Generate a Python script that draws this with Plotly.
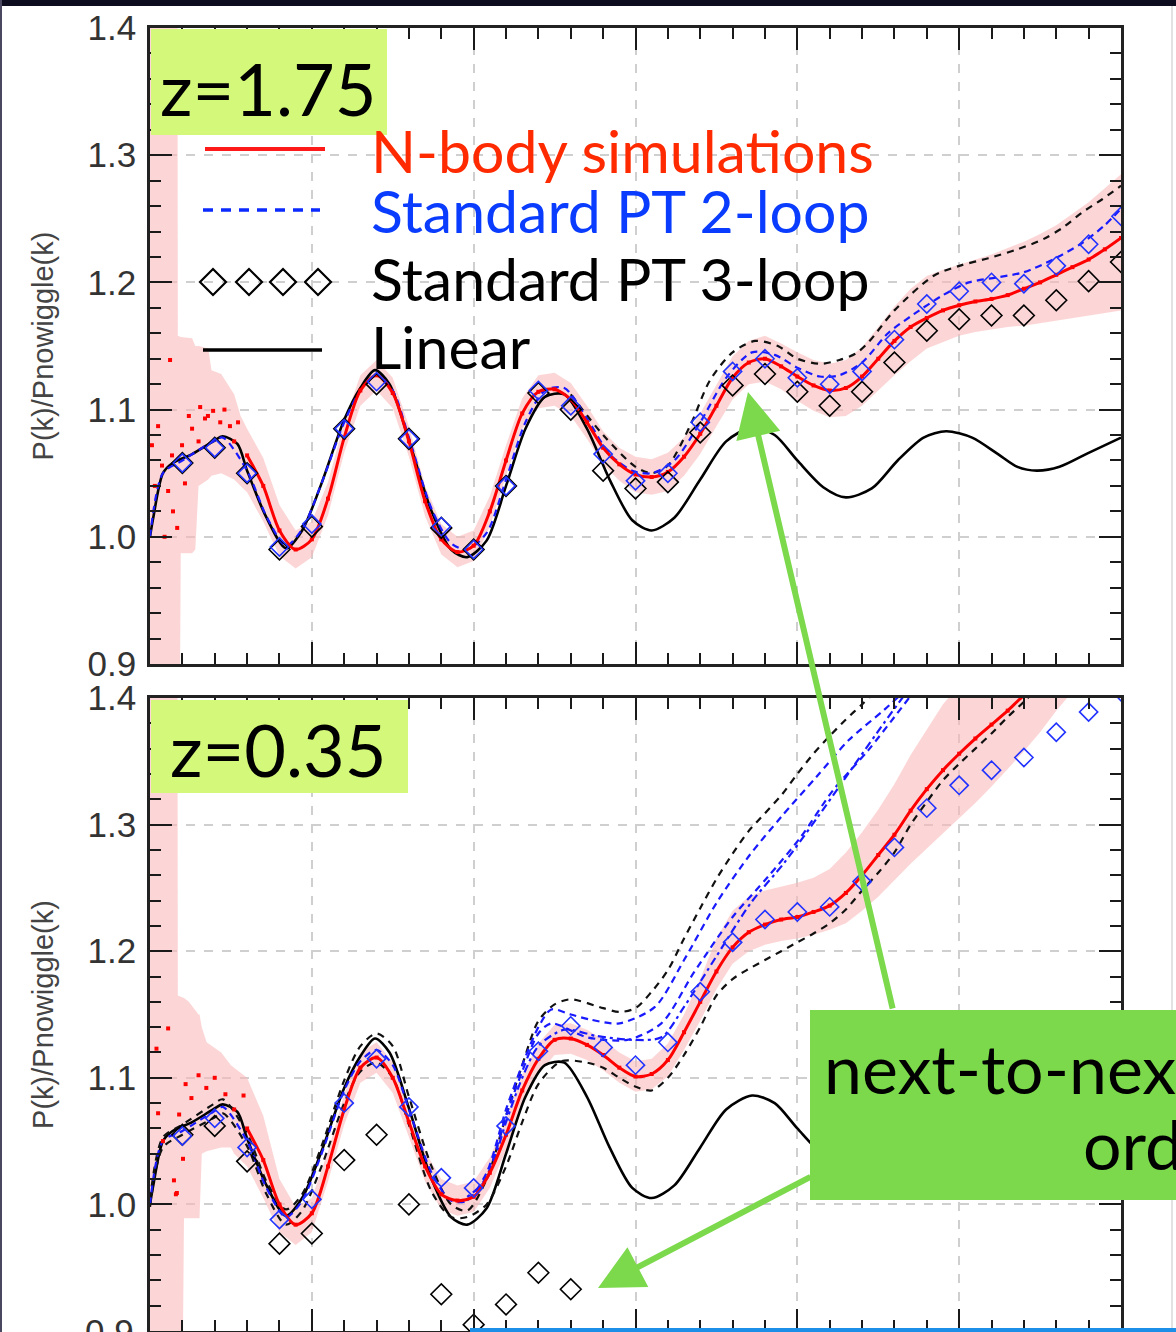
import plotly.graph_objects as go

# ---------------------------------------------------------------- data
# shared linear-theory ratio P_lin/P_nowiggle
K_LIN = [0.0, 0.001, 0.004, 0.007, 0.013, 0.0195, 0.0225, 0.027, 0.030, 0.036, 0.042, 0.047,
         0.053, 0.060, 0.065, 0.0695, 0.074, 0.080, 0.087, 0.093, 0.098, 0.104, 0.110, 0.116,
         0.122, 0.128, 0.135, 0.142, 0.149, 0.155, 0.162, 0.170, 0.178, 0.186, 0.193, 0.200,
         0.208, 0.215, 0.223, 0.231, 0.239, 0.246, 0.254, 0.262, 0.268, 0.274, 0.281, 0.290, 0.300]
LINEAR = [1.000, 1.015, 1.050, 1.058, 1.065, 1.075, 1.079, 1.073, 1.052, 1.015, 0.991, 1.005,
          1.042, 1.092, 1.117, 1.131, 1.120, 1.076, 1.020, 0.990, 0.984, 0.997, 1.040, 1.085,
          1.110, 1.112, 1.085, 1.045, 1.013, 1.005, 1.015, 1.045, 1.075, 1.086, 1.080, 1.060,
          1.039, 1.031, 1.038, 1.060, 1.078, 1.083, 1.078, 1.065, 1.055, 1.052, 1.055, 1.066, 1.078]

# ---- z = 1.75 panel
K_NB_TOP_SCAT = [0.0006, 0.0015, 0.0025, 0.0037, 0.0045, 0.0056, 0.0062, 0.0068, 0.0071, 0.0084,
                 0.0099, 0.0108, 0.012, 0.013, 0.015, 0.0155, 0.017, 0.0179, 0.0195, 0.0217,
                 0.023, 0.0247, 0.026, 0.0272]
NB_TOP_SCAT = [1.072, 1.040, 1.087, 1.056, 1.000, 1.036, 1.139, 1.064, 1.020, 1.007,
               1.072, 1.042, 1.095, 1.085, 1.075, 1.102, 1.093, 1.095, 1.099, 1.090,
               1.100, 1.087, 1.075, 1.090]
K_NB = [0.030, 0.035, 0.040, 0.045, 0.050, 0.055, 0.060, 0.065, 0.070, 0.075, 0.080, 0.085,
        0.090, 0.095, 0.100, 0.105, 0.110, 0.115, 0.120, 0.125, 0.130, 0.135, 0.140, 0.145,
        0.150, 0.155, 0.160, 0.165, 0.170, 0.175, 0.180, 0.185, 0.190, 0.195, 0.200, 0.205,
        0.210, 0.215, 0.220, 0.225, 0.230, 0.235, 0.240, 0.245, 0.250, 0.255, 0.260, 0.265,
        0.270, 0.275, 0.280, 0.285, 0.290, 0.295, 0.300]
NB_TOP = [1.064, 1.040, 1.005, 0.990, 0.998, 1.030, 1.078, 1.115, 1.127, 1.113, 1.075, 1.028,
          0.998, 0.988, 0.993, 1.020, 1.060, 1.097, 1.114, 1.116, 1.108, 1.090, 1.070, 1.057,
          1.049, 1.047, 1.051, 1.063, 1.081, 1.103, 1.125, 1.137, 1.140, 1.134, 1.126, 1.119,
          1.115, 1.117, 1.126, 1.140, 1.154, 1.165, 1.172, 1.178, 1.182, 1.185, 1.187, 1.190,
          1.195, 1.200, 1.206, 1.212, 1.218, 1.226, 1.235]
K_BAND_TOP = [0.0, 0.0085, 0.0086, 0.0093, 0.0095, 0.013, 0.014, 0.015, 0.018, 0.019, 0.022,
              0.026, 0.028] + K_NB
BAND_TOP_HI = [1.40, 1.40, 1.158, 1.157, 1.157, 1.156, 1.150, 1.150, 1.148, 1.131, 1.128,
               1.112, 1.095,
               1.085, 1.062, 1.025, 1.005, 1.012, 1.043, 1.090, 1.127, 1.139, 1.125, 1.087, 1.040,
               1.010, 1.000, 1.005, 1.032, 1.072, 1.109, 1.127, 1.129, 1.121, 1.103, 1.083, 1.070,
               1.063, 1.061, 1.066, 1.078, 1.097, 1.119, 1.142, 1.154, 1.158, 1.152, 1.145, 1.139,
               1.136, 1.139, 1.149, 1.165, 1.181, 1.195, 1.205, 1.210, 1.214, 1.218, 1.222, 1.227,
               1.232, 1.238, 1.245, 1.254, 1.263, 1.274, 1.285]
BAND_TOP_LO = [0.90, 0.90, 0.90, 0.90, 0.987, 0.987, 0.990, 1.040, 1.045, 1.048, 1.050,
               1.045, 1.040,
               1.035, 1.012, 0.985, 0.975, 0.984, 1.017, 1.066, 1.103, 1.115, 1.101, 1.063, 1.016,
               0.986, 0.976, 0.981, 1.008, 1.048, 1.085, 1.101, 1.103, 1.095, 1.077, 1.057, 1.044,
               1.035, 1.033, 1.036, 1.048, 1.065, 1.087, 1.108, 1.120, 1.122, 1.116, 1.107, 1.099,
               1.094, 1.095, 1.103, 1.115, 1.127, 1.138, 1.148, 1.153, 1.158, 1.161, 1.163, 1.165,
               1.166, 1.168, 1.170, 1.172, 1.174, 1.176, 1.178]
K_PT2_TOP = [0.0, 0.004, 0.010, 0.0195, 0.0225, 0.030, 0.036, 0.042, 0.047, 0.053, 0.060, 0.065,
             0.070, 0.075, 0.080, 0.087, 0.093, 0.098, 0.104, 0.110, 0.116, 0.122, 0.128, 0.135,
             0.142, 0.149, 0.155, 0.162, 0.170, 0.178, 0.186, 0.193, 0.200, 0.207, 0.213, 0.220,
             0.228, 0.236, 0.245, 0.253, 0.262, 0.270, 0.279, 0.288, 0.295, 0.300]
PT2_TOP = [1.000, 1.050, 1.060, 1.075, 1.078, 1.052, 1.016, 0.993, 1.006, 1.042, 1.090, 1.115,
           1.127, 1.115, 1.078, 1.022, 0.995, 0.990, 1.003, 1.045, 1.090, 1.115, 1.117, 1.093,
           1.065, 1.052, 1.050, 1.060, 1.090, 1.125, 1.145, 1.143, 1.133, 1.126, 1.127, 1.137,
           1.160, 1.175, 1.190, 1.200, 1.204, 1.208, 1.218, 1.231, 1.245, 1.258]
K_DASH_TOP = [0.130, 0.140, 0.150, 0.155, 0.160, 0.167, 0.173, 0.180, 0.187, 0.194, 0.200, 0.207,
              0.213, 0.218, 0.222, 0.230, 0.242, 0.250, 0.259, 0.268, 0.276, 0.282, 0.288, 0.294, 0.300]
DASH_TOP = [1.112, 1.080, 1.055, 1.050, 1.056, 1.088, 1.123, 1.145, 1.154, 1.150, 1.140, 1.136,
            1.139, 1.144, 1.153, 1.178, 1.205, 1.213, 1.219, 1.226, 1.234, 1.243, 1.255, 1.265, 1.276]
K_DIAM = [0.01, 0.02, 0.03, 0.04, 0.05, 0.06, 0.07, 0.08, 0.09, 0.10, 0.11, 0.12, 0.13, 0.14, 0.15,
          0.16, 0.17, 0.18, 0.19, 0.20, 0.21, 0.22, 0.23, 0.24, 0.25, 0.26, 0.27, 0.28, 0.29, 0.30]
PT2_DIAM_TOP = [1.058, 1.070, 1.050, 0.992, 1.010, 1.085, 1.122, 1.077, 1.008, 0.990, 1.040, 1.115,
                1.103, 1.065, 1.044, 1.050, 1.090, 1.130, 1.140, 1.125, 1.120, 1.130, 1.155, 1.183,
                1.193, 1.200, 1.199, 1.213, 1.230, 1.252]
PT3_DIAM_TOP = [1.058, 1.070, 1.050, 0.990, 1.008, 1.085, 1.120, 1.077, 1.007, 0.990, 1.040, 1.113,
                1.100, 1.052, 1.038, 1.043, 1.082, 1.119, 1.128, 1.114, 1.103, 1.114, 1.137, 1.162,
                1.171, 1.174, 1.174, 1.186, 1.201, 1.216]

# ---- z = 0.35 panel
K_NB_BOT_SCAT = [0.002, 0.0025, 0.004, 0.0056, 0.0074, 0.008, 0.0083, 0.009, 0.0102, 0.011,
                 0.0128, 0.015, 0.0174, 0.020, 0.0233, 0.026, 0.0289]
NB_BOT_SCAT = [1.123, 1.072, 1.050, 1.139, 1.019, 1.008, 1.009, 1.071, 1.036, 1.095,
               1.084, 1.102, 1.092, 1.100, 1.087, 1.075, 1.086]
K_NB_BOT = [0.030, 0.035, 0.040, 0.045, 0.050, 0.055, 0.060, 0.065, 0.070, 0.075, 0.080, 0.085,
            0.090, 0.095, 0.100, 0.105, 0.110, 0.115, 0.120, 0.125, 0.130, 0.135, 0.140, 0.145,
            0.150, 0.155, 0.160, 0.165, 0.170, 0.175, 0.180, 0.185, 0.190, 0.195, 0.200, 0.205,
            0.210, 0.215, 0.220, 0.225, 0.230, 0.235, 0.240, 0.245, 0.250, 0.255, 0.260, 0.265,
            0.270, 0.275]
NB_BOT = [1.060, 1.035, 1.000, 0.984, 0.993, 1.030, 1.075, 1.108, 1.116, 1.100, 1.065, 1.030,
          1.008, 1.003, 1.006, 1.025, 1.055, 1.090, 1.115, 1.130, 1.131, 1.126, 1.118, 1.108,
          1.101, 1.103, 1.114, 1.136, 1.160, 1.184, 1.203, 1.215, 1.221, 1.225, 1.227, 1.231,
          1.236, 1.246, 1.260, 1.276, 1.292, 1.311, 1.328, 1.343, 1.356, 1.368, 1.379, 1.390,
          1.402, 1.410]
K_BAND_BOT = [0.0, 0.0085, 0.0086, 0.0102, 0.0105, 0.012, 0.015, 0.0153, 0.016, 0.0175, 0.022,
              0.025, 0.026,
              0.030, 0.035, 0.040, 0.045, 0.050, 0.055, 0.060, 0.065, 0.070, 0.075, 0.080, 0.085,
              0.090, 0.095, 0.100, 0.105, 0.110, 0.115, 0.120, 0.125, 0.130, 0.135, 0.140, 0.145,
              0.150, 0.155, 0.160, 0.165, 0.170, 0.175, 0.180, 0.185, 0.190, 0.195, 0.200, 0.205,
              0.210, 0.215, 0.220, 0.225, 0.230, 0.235, 0.240, 0.245, 0.250, 0.255, 0.260, 0.265,
              0.270, 0.275, 0.280, 0.285]
BAND_BOT_HI = [1.40, 1.40, 1.165, 1.163, 1.163, 1.160, 1.150, 1.150, 1.140, 1.128, 1.120,
               1.110, 1.108,
               1.100, 1.070, 1.020, 0.998, 1.005, 1.042, 1.087, 1.120, 1.128, 1.112, 1.077, 1.042,
               1.020, 1.015, 1.018, 1.037, 1.067, 1.102, 1.127, 1.142, 1.143, 1.138, 1.130, 1.120,
               1.113, 1.115, 1.127, 1.150, 1.178, 1.210, 1.232, 1.243, 1.248, 1.251, 1.254, 1.258,
               1.265, 1.278, 1.294, 1.312, 1.332, 1.355, 1.375, 1.395, 1.410, 1.420, 1.420, 1.420,
               1.420, 1.420, 1.420, 1.420]
BAND_BOT_LO = [0.90, 0.90, 0.90, 0.90, 0.989, 0.989, 0.989, 0.989, 1.040, 1.042, 1.045,
               1.045, 1.040,
               1.030, 1.005, 0.978, 0.968, 0.978, 1.018, 1.063, 1.096, 1.104, 1.088, 1.053, 1.018,
               0.996, 0.991, 0.994, 1.013, 1.043, 1.078, 1.103, 1.118, 1.119, 1.114, 1.106, 1.096,
               1.089, 1.091, 1.101, 1.122, 1.145, 1.170, 1.190, 1.200, 1.205, 1.208, 1.210, 1.213,
               1.217, 1.222, 1.232, 1.243, 1.256, 1.269, 1.281, 1.293, 1.305, 1.317, 1.330, 1.344,
               1.358, 1.373, 1.390, 1.405]
K_PT2_BOT_A = [0.0, 0.004, 0.010, 0.0195, 0.0225, 0.030, 0.036, 0.042, 0.047, 0.053, 0.060, 0.065,
               0.070, 0.075, 0.080, 0.087, 0.093, 0.098, 0.104, 0.110, 0.115, 0.120, 0.124, 0.130,
               0.136, 0.145, 0.156, 0.165, 0.175, 0.185, 0.195, 0.206, 0.216, 0.227, 0.235]
PT2_BOT_A = [1.000, 1.050, 1.058, 1.073, 1.077, 1.050, 1.013, 0.990, 1.003, 1.040, 1.090, 1.113,
             1.122, 1.110, 1.075, 1.025, 1.003, 1.003, 1.025, 1.075, 1.110, 1.140, 1.154, 1.150,
             1.146, 1.143, 1.156, 1.193, 1.238, 1.275, 1.306, 1.338, 1.367, 1.391, 1.410]
K_PT2_BOT_B = [0.098, 0.104, 0.110, 0.115, 0.120, 0.124, 0.135, 0.1475, 0.158, 0.168, 0.180,
               0.191, 0.201, 0.211, 0.222, 0.230, 0.236]
PT2_BOT_B = [1.003, 1.022, 1.070, 1.105, 1.135, 1.143, 1.132, 1.130, 1.143, 1.183, 1.227,
             1.259, 1.290, 1.327, 1.359, 1.385, 1.405]
K_PT2_BOT_C = [0.098, 0.104, 0.110, 0.115, 0.120, 0.128, 0.138, 0.149, 0.158, 0.165, 0.175,
               0.1856, 0.196, 0.2063, 0.2165, 0.2267, 0.233]
PT2_BOT_C = [1.006, 1.020, 1.065, 1.100, 1.125, 1.138, 1.133, 1.130, 1.132, 1.156, 1.196,
             1.238, 1.270, 1.306, 1.343, 1.380, 1.402]
K_DASH_BOT_HI = [0.0, 0.004, 0.010, 0.0195, 0.0225, 0.030, 0.036, 0.042, 0.047, 0.053, 0.060,
                 0.065, 0.070, 0.075, 0.080, 0.087, 0.093, 0.098, 0.104, 0.110, 0.115, 0.120,
                 0.125, 0.130, 0.140, 0.145, 0.150, 0.155, 0.160, 0.165, 0.170, 0.175, 0.180,
                 0.185, 0.190, 0.195, 0.200, 0.205, 0.210, 0.215, 0.220, 0.225]
DASH_BOT_HI = [1.004, 1.053, 1.063, 1.079, 1.083, 1.056, 1.018, 0.996, 1.008, 1.046, 1.098,
               1.125, 1.135, 1.125, 1.085, 1.030, 1.000, 0.995, 1.020, 1.070, 1.110, 1.145,
               1.158, 1.162, 1.155, 1.152, 1.155, 1.168, 1.185, 1.210, 1.234, 1.257, 1.277,
               1.295, 1.309, 1.323, 1.340, 1.356, 1.370, 1.383, 1.395, 1.407]
K_DASH_BOT_LO = [0.0, 0.004, 0.010, 0.0195, 0.0225, 0.030, 0.036, 0.042, 0.047, 0.053, 0.060,
                 0.065, 0.070, 0.075, 0.080, 0.087, 0.093, 0.098, 0.104, 0.110, 0.115, 0.120,
                 0.127, 0.135, 0.140, 0.145, 0.150, 0.155, 0.160, 0.165, 0.170, 0.175, 0.180,
                 0.185, 0.190, 0.195, 0.200, 0.205, 0.210, 0.215, 0.220, 0.225, 0.230, 0.235,
                 0.240, 0.245, 0.250, 0.255, 0.260, 0.265, 0.270, 0.275]
DASH_BOT_LO = [0.998, 1.045, 1.055, 1.068, 1.072, 1.046, 1.008, 0.984, 0.995, 1.030, 1.080,
               1.105, 1.112, 1.100, 1.063, 1.010, 0.990, 0.990, 1.000, 1.030, 1.065, 1.095,
               1.113, 1.112, 1.108, 1.100, 1.093, 1.090, 1.100, 1.118, 1.140, 1.165, 1.178,
               1.186, 1.193, 1.200, 1.207, 1.214, 1.222, 1.233, 1.248, 1.262, 1.278, 1.300,
               1.318, 1.335, 1.348, 1.360, 1.372, 1.385, 1.397, 1.410]
PT2_DIAM_BOT = [1.054, 1.068, 1.045, 0.988, 1.004, 1.080, 1.115, 1.077, 1.021, 1.013, 1.062, 1.121,
                1.141, 1.124, 1.110, 1.128, 1.168, 1.207, 1.225, 1.231, 1.235, 1.255, 1.282, 1.313,
                1.331, 1.343, 1.353, 1.373, 1.389, 1.405]
K_PT3_BOT = [0.01, 0.02, 0.03, 0.04, 0.05, 0.06, 0.07, 0.08, 0.09, 0.10, 0.11, 0.12, 0.13]
PT3_DIAM_BOT = [1.055, 1.062, 1.034, 0.969, 0.977, 1.035, 1.055, 1.000, 0.929, 0.905, 0.921,
                0.946, 0.933]

LEGEND_LABELS = ["N-body simulations", "Standard PT 2-loop", "Standard PT 3-loop", "Linear"]
LEGEND_COLORS = ["#ff2a00", "#0a3cff", "#000000", "#000000"]
PANEL_LABELS = ["z=1.75", "z=0.35"]
NOTE_LINES = ["next-to-next-to-leading", "order"]
Y_TITLE = "P(k)/Pnowiggle(k)"
BOTTOM_EDGE_LABEL = "0.9"

# ---------------------------------------------------------------- layout geometry
W, H = 1176, 1332
L, R, T, B = 150, 1121, 28, 1331
TOP_DOM = [(B - 664) / (B - T), 1.0]
BOT_DOM = [0.0, (B - 698) / (B - T)]


def px(x):
    return (x - L) / (R - L)


def py(y):
    return (B - y) / (B - T)


PINK = "rgba(250,185,185,0.58)"
RED = "#ff0000"
BLUE = "#1a1aff"
LIGHT_GREEN = "#d4f87a"
GREEN = "#7bd94b"
BIG_FONT = "Lato, 'Open Sans', sans-serif"
TICK_FONT = dict(family="Liberation Sans, Arial, sans-serif", size=35, color="#333")

fig = go.Figure()


def band(xa, ya, kb, bhi, blo):
    fig.add_trace(go.Scatter(x=kb + kb[::-1], y=bhi + blo[::-1], fill="toself", fillcolor=PINK,
                             mode="lines", line=dict(width=0), hoverinfo="skip",
                             showlegend=False, xaxis=xa, yaxis=ya))


def line(xa, ya, k, v, color, width, dash="solid"):
    fig.add_trace(go.Scatter(x=k, y=v, mode="lines", xaxis=xa, yaxis=ya, showlegend=False,
                             line=dict(color=color, width=width, dash=dash, shape="spline",
                                       smoothing=0.8)))


def red_series(xa, ya, kscat, scat, knb, nb):
    fig.add_trace(go.Scatter(x=kscat, y=scat, mode="markers", xaxis=xa, yaxis=ya,
                             showlegend=False,
                             marker=dict(symbol="square", size=4, color=RED)))
    fig.add_trace(go.Scatter(x=knb, y=nb, mode="lines+markers", xaxis=xa, yaxis=ya,
                             showlegend=False,
                             line=dict(color=RED, width=3, shape="spline", smoothing=0.8),
                             marker=dict(symbol="square", size=4, color=RED)))


def diamonds(xa, ya, k, v, color, size):
    fig.add_trace(go.Scatter(x=k, y=v, mode="markers", xaxis=xa, yaxis=ya, showlegend=False,
                             marker=dict(symbol="diamond-open", size=size,
                                         color=color, line=dict(width=1.6, color=color))))


# ---- top panel
band("x", "y", K_BAND_TOP, BAND_TOP_HI, BAND_TOP_LO)
line("x", "y", K_LIN, LINEAR, "#000000", 2.6)
line("x", "y", K_DASH_TOP, DASH_TOP, "#111111", 2.2, "7px,6px")
line("x", "y", K_PT2_TOP, PT2_TOP, BLUE, 2.2, "7px,5px")
red_series("x", "y", K_NB_TOP_SCAT, NB_TOP_SCAT, K_NB, NB_TOP)
diamonds("x", "y", K_DIAM, PT3_DIAM_TOP, "#000000", 16)
diamonds("x", "y", K_DIAM, PT2_DIAM_TOP, "#2233ff", 14)

# ---- bottom panel
band("x2", "y2", K_BAND_BOT, BAND_BOT_HI, BAND_BOT_LO)
line("x2", "y2", K_LIN, LINEAR, "#000000", 2.6)
line("x2", "y2", K_DASH_BOT_HI, DASH_BOT_HI, "#111111", 2.2, "7px,6px")
line("x2", "y2", K_DASH_BOT_LO, DASH_BOT_LO, "#111111", 2.2, "7px,6px")
line("x2", "y2", K_PT2_BOT_A, PT2_BOT_A, BLUE, 2.2, "7px,5px")
line("x2", "y2", K_PT2_BOT_B, PT2_BOT_B, BLUE, 2.2, "7px,5px")
line("x2", "y2", K_PT2_BOT_C, PT2_BOT_C, BLUE, 2.2, "3px,4px,8px,4px")
red_series("x2", "y2", K_NB_BOT_SCAT, NB_BOT_SCAT, K_NB_BOT, NB_BOT)
diamonds("x2", "y2", K_PT3_BOT, PT3_DIAM_BOT, "#000000", 16)
diamonds("x2", "y2", K_DIAM, PT2_DIAM_BOT, "#2233ff", 14)

# ---- legend sample glyph (diamonds), positioned in top-panel data space
top_k = lambda xpx: (xpx - L) / (R - L) * 0.3
top_v = lambda ypx: 1.4 - (ypx - 28) / (664 - 28) * 0.5
fig.add_trace(go.Scatter(x=[top_k(213), top_k(249), top_k(283), top_k(318)],
                         y=[top_v(282)] * 4, mode="markers", showlegend=False,
                         xaxis="x", yaxis="y",
                         marker=dict(symbol="diamond-open", size=20, color="#000",
                                     line=dict(width=2.2, color="#000"))))

axis_common = dict(range=[0, 0.3], dtick=0.05, tick0=0, ticks="inside", ticklen=22,
                   tickwidth=2, tickcolor="#1a1a1a", showticklabels=False, automargin=False,
                   showline=True, linewidth=2.5, linecolor="#222", mirror="allticks",
                   showgrid=True, gridcolor="#cfcfcf", griddash="dash", gridwidth=1.5,
                   zeroline=False,
                   minor=dict(ticks="inside", ticklen=11, tickwidth=2, tickcolor="#1a1a1a",
                              dtick=0.01, tick0=0, showgrid=False))
yaxis_common = dict(range=[0.9, 1.4], dtick=0.1, tick0=0.9, tickformat=".1f", ticks="inside",
                    ticklen=22, tickwidth=2, tickcolor="#1a1a1a", automargin=False,
                    tickfont=TICK_FONT,
                    ticklabelstandoff=4,
                    showline=True, linewidth=2.5, linecolor="#222", mirror="allticks",
                    showgrid=True, gridcolor="#cfcfcf", griddash="dash", gridwidth=1.5,
                    zeroline=False,
                    title=dict(text=Y_TITLE, standoff=26,
                               font=dict(family="Liberation Sans, Arial, sans-serif", size=29,
                                         color="#444")),
                    minor=dict(ticks="inside", ticklen=11, tickwidth=2, tickcolor="#1a1a1a",
                               dtick=0.02, tick0=0.9, showgrid=False))

shapes = []
# slide frame pieces
shapes.append(dict(type="rect", xref="paper", yref="paper", x0=px(0), x1=px(W), y0=py(6),
                   y1=py(0), fillcolor="#0c0c1e", line=dict(width=0), layer="above"))
shapes.append(dict(type="rect", xref="paper", yref="paper", x0=px(0), x1=px(2), y0=py(H),
                   y1=py(0), fillcolor="#4a4860", line=dict(width=0), layer="above"))
shapes.append(dict(type="line", xref="paper", yref="paper", x0=px(1172), x1=px(1172),
                   y0=py(H), y1=py(6), line=dict(color="#e2e2e2", width=2), layer="above"))
shapes.append(dict(type="rect", xref="paper", yref="paper", x0=px(470), x1=px(W), y0=py(H),
                   y1=py(1328), fillcolor="#1c8fe8", line=dict(width=0), layer="above"))
# label boxes
shapes.append(dict(type="rect", xref="paper", yref="paper", x0=px(151), x1=px(387), y0=py(135),
                   y1=py(29), fillcolor=LIGHT_GREEN, line=dict(width=0), layer="above"))
shapes.append(dict(type="rect", xref="paper", yref="paper", x0=px(151), x1=px(408), y0=py(793),
                   y1=py(700), fillcolor=LIGHT_GREEN, line=dict(width=0), layer="above"))
shapes.append(dict(type="rect", xref="paper", yref="paper", x0=px(810), x1=px(W + 5),
                   y0=py(1200), y1=py(1010), fillcolor=GREEN, line=dict(width=0),
                   layer="above"))
# legend sample lines
shapes.append(dict(type="line", xref="paper", yref="paper", x0=px(205), x1=px(325), y0=py(149),
                   y1=py(149), line=dict(color="#ff1a1a", width=4), layer="above"))
shapes.append(dict(type="line", xref="paper", yref="paper", x0=px(203), x1=px(320), y0=py(210),
                   y1=py(210), line=dict(color="#0a2aff", width=3.5, dash="10px,8px"),
                   layer="above"))
shapes.append(dict(type="line", xref="paper", yref="paper", x0=px(203), x1=px(322), y0=py(350),
                   y1=py(350), line=dict(color="#000", width=3.5), layer="above"))

annotations = []
annotations.append(dict(xref="paper", yref="paper", x=px(158), y=py(88), xanchor="left",
                        yanchor="middle", text=PANEL_LABELS[0], showarrow=False,
                        font=dict(family=BIG_FONT, size=72, color="#000")))
annotations.append(dict(xref="paper", yref="paper", x=px(168), y=py(749), xanchor="left",
                        yanchor="middle", text=PANEL_LABELS[1], showarrow=False,
                        font=dict(family=BIG_FONT, size=72, color="#000")))
for lab, col, yc in zip(LEGEND_LABELS, LEGEND_COLORS, [150, 211, 278, 346]):
    annotations.append(dict(xref="paper", yref="paper", x=px(369), y=py(yc), xanchor="left",
                            yanchor="middle", text=lab, showarrow=False,
                            font=dict(family=BIG_FONT, size=59, color=col)))
annotations.append(dict(xref="paper", yref="paper", x=px(822), y=py(1067), xanchor="left",
                        yanchor="middle", text=NOTE_LINES[0], showarrow=False,
                        font=dict(family=BIG_FONT, size=68, color="#000")))
annotations.append(dict(xref="paper", yref="paper", x=px(1081), y=py(1143), xanchor="left",
                        yanchor="middle", text=NOTE_LINES[1], showarrow=False,
                        font=dict(family=BIG_FONT, size=68, color="#000")))
# lowest tick label of the bottom panel, which sits on the slide's lower edge
annotations.append(dict(xref="paper", yref="paper", x=px(136), y=0, xanchor="right",
                        yanchor="middle", text=BOTTOM_EDGE_LABEL, showarrow=False,
                        font=TICK_FONT))
# arrows
annotations.append(dict(xref="paper", yref="paper", x=px(748), y=py(392), text="",
                        showarrow=True, ax=893 - 748, ay=1010 - 392, arrowhead=2,
                        arrowsize=1.5, arrowwidth=6, arrowcolor=GREEN))
annotations.append(dict(xref="paper", yref="paper", x=px(598), y=py(1288), text="",
                        showarrow=True, ax=812 - 598, ay=1176 - 1288, arrowhead=2,
                        arrowsize=1.5, arrowwidth=6, arrowcolor=GREEN))

fig.update_layout(
    width=W, height=H,
    margin=dict(l=L, r=W - R, t=T, b=H - B, pad=0, autoexpand=False),
    paper_bgcolor="white", plot_bgcolor="white",
    showlegend=False,
    xaxis=dict(domain=[0, 1], anchor="y", **axis_common),
    yaxis=dict(domain=TOP_DOM, anchor="x", **yaxis_common),
    xaxis2=dict(domain=[0, 1], anchor="y2", **axis_common),
    yaxis2=dict(domain=BOT_DOM, anchor="x2", **yaxis_common),
    shapes=shapes,
    annotations=annotations,
)

fig.write_html("out.html", config={"displayModeBar": False},
               post_script="document.body.style.margin='0px';"
                           "document.documentElement.style.overflow='hidden';")
